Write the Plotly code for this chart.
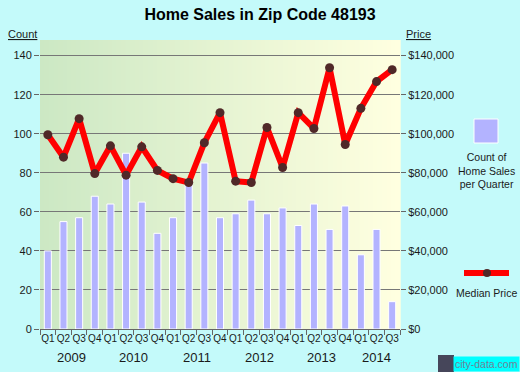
import plotly.graph_objects as go

years = ["2009", "2010", "2011", "2012", "2013", "2014"]
quarters = ["Q1", "Q2", "Q3", "Q4"]
# 23 quarters: Q1 2009 .. Q3 2014
periods = [(y, q) for y in years for q in quarters][:23]
categories = [f"{q} {y}" for y, q in periods]
quarter_labels = [q for y, q in periods]

sales_count = [40, 55, 57, 68, 64, 90, 65, 49, 57, 76, 85, 57, 59, 66, 59, 62,
               53, 64, 51, 63, 38, 51, 14]
median_price = [99500, 88000, 107700, 79600, 93800, 78800, 93300, 81200, 77000,
                75000, 95400, 110800, 75700, 75000, 103200, 82700, 110800, 102700,
                133800, 94500, 113000, 126700, 132800]

count_ticks = [0, 20, 40, 60, 80, 100, 120, 140]
price_ticks = [0, 20000, 40000, 60000, 80000, 100000, 120000, 140000]

PAGE_BG = "rgb(196,250,250)"
BAR = "rgb(179,179,255)"
LINE = "rgb(255,0,0)"
DOT = "rgb(80,40,40)"
TXT = "#1a1a1a"
FONT = "Liberation Sans, Arial, sans-serif"

fig = go.Figure()
fig.add_trace(go.Bar(x=categories, y=sales_count, marker=dict(color=BAR, line=dict(color="white", width=1)),
                     yaxis="y", showlegend=False, hoverinfo="y"))
fig.add_trace(go.Scatter(x=categories, y=median_price, mode="lines+markers", yaxis="y2",
                         line=dict(color=LINE, width=6),
                         marker=dict(color=DOT, size=9), showlegend=False))

# gradient plot background
shapes = []
n = 80
c0 = (204, 232, 196)
c1 = (255, 255, 224)
for i in range(n):
    t = i / (n - 1)
    col = tuple(round(c0[k] + (c1[k] - c0[k]) * t) for k in range(3))
    shapes.append(dict(type="rect", xref="paper", yref="paper", x0=i / n, x1=(i + 1) / n + 0.002,
                       y0=0, y1=1, fillcolor=f"rgb{col}", line=dict(width=0), layer="below"))

# legend decorations (outside the plot, paper coords)
W, H = 360.0, 289.0
def px(xp):
    return (xp - 40) / W
def py(yp):
    return (329 - yp) / H

shapes.append(dict(type="rect", xref="paper", yref="paper", x0=px(474), x1=px(498), y0=py(143), y1=py(119),
                   fillcolor=BAR, line=dict(color="white", width=1)))
shapes.append(dict(type="line", xref="paper", yref="paper", x0=px(464), x1=px(509), y0=py(273), y1=py(273),
                   line=dict(color=LINE, width=6)))
shapes.append(dict(type="circle", xref="paper", yref="paper", x0=px(483), x1=px(491), y0=py(277), y1=py(269),
                   fillcolor=DOT, line=dict(width=0)))
# watermark icon
shapes.append(dict(type="rect", xref="paper", yref="paper", x0=px(438), x1=px(454), y0=py(372), y1=py(355),
                   fillcolor="rgb(70,70,90)", line=dict(width=0)))

def ann(x, y, text, size, xref="paper", color=TXT, **kw):
    d = dict(x=x, y=y, xref=xref, yref="paper", text=text, showarrow=False,
             xanchor="center", yanchor="middle", font=dict(size=size, color=color, family=FONT))
    d.update(kw)
    return d

annotations = []
for y in years:
    idx = [k for k, (yy, q) in enumerate(periods) if yy == y]
    mid = (idx[0] + idx[-1]) / 2
    annotations.append(ann(mid, py(357), y, 13, xref="x"))

annotations += [
    ann(px(22), py(34), "<u>Count</u>", 11),
    ann(px(418), py(34), "<u>Price</u>", 11),
    ann(px(486), py(170), "Count of<br>Home Sales<br>per Quarter", 10.5),
    ann(px(486), py(293), "Median Price", 10.5),
    ann(px(486), py(363.5), "city-data.com", 10.5, color="rgb(110,130,150)",
        bgcolor="rgb(0,255,255)", borderpad=1),
]

fig.update_layout(
    width=520, height=372,
    margin=dict(l=40, r=120, t=40, b=43),
    paper_bgcolor=PAGE_BG,
    plot_bgcolor="rgba(0,0,0,0)",
    title=dict(text="<b>Home Sales in Zip Code 48193</b>", x=0.5, xanchor="center", y=1 - 14 / 372,
               yanchor="middle", font=dict(size=16, color="black", family=FONT)),
    bargap=0.55,
    xaxis=dict(type="category", tickvals=categories, ticktext=quarter_labels, tickson="boundaries",
               ticks="outside", ticklen=5, tickcolor="#666", showgrid=False, showline=True,
               linecolor="#666", linewidth=1, tickangle=0,
               tickfont=dict(size=10, color=TXT, family=FONT),
               range=[-0.5, 22.5]),
    yaxis=dict(range=[0, 148], tickvals=count_ticks, ticks="outside", ticklen=5, tickcolor="#666",
               showgrid=True, gridcolor="#777", gridwidth=1.3, zeroline=False,
               tickfont=dict(size=11, color=TXT, family=FONT)),
    yaxis2=dict(range=[0, 148000], overlaying="y", side="right", tickvals=price_ticks,
                ticktext=[f"${v:,}" for v in price_ticks], ticks="outside", ticklen=5, tickcolor="#666",
                showgrid=False, zeroline=False, tickfont=dict(size=11, color=TXT, family=FONT)),
    shapes=shapes,
    annotations=annotations,
    font=dict(family=FONT),
)

fig.write_html("out.html", config={"displayModeBar": False},
               post_script="document.body.style.margin='0';document.body.style.background='" + PAGE_BG + "';")
